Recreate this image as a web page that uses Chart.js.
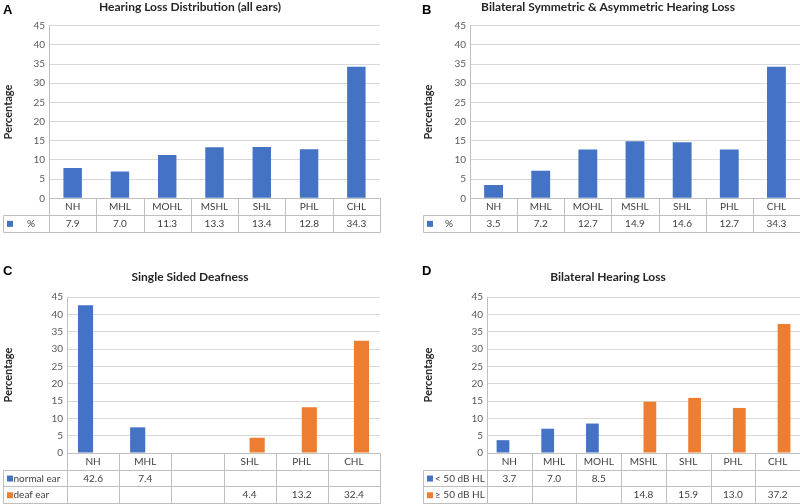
<!DOCTYPE html>
<html>
<head>
<meta charset="utf-8">
<script src="https://cdn.jsdelivr.net/npm/chart.js@4.4.0/dist/chart.umd.min.js"></script>
<style>
  body { margin: 0; background: #fff; width: 800px; height: 504px; position: relative; overflow: hidden; }
  .panel { position: absolute; width: 400px; height: 252px; }
  .letter { position: absolute; font: bold 13px "Liberation Sans", Arial, sans-serif; line-height: 1; color: #000; }
</style>
</head>
<body>
<div class="panel" style="left:0;top:0"><canvas id="chartA"></canvas></div>
<div class="panel" style="left:400px;top:0"><canvas id="chartB"></canvas></div>
<div class="panel" style="left:0;top:252px"><canvas id="chartC"></canvas></div>
<div class="panel" style="left:400px;top:252px"><canvas id="chartD"></canvas></div>
<div class="letter" style="left:3px;top:3px">A</div>
<div class="letter" style="left:422px;top:3px">B</div>
<div class="letter" style="left:3px;top:264px">C</div>
<div class="letter" style="left:422px;top:264px">D</div>
<script>
// categories
const categories = ["NH", "MHL", "MOHL", "MSHL", "SHL", "PHL", "CHL"];
const ssdCategories = ["NH", "MHL", "", "SHL", "PHL", "CHL"];

// A: all ears
const allEars = [7.9, 7.0, 11.3, 13.3, 13.4, 12.8, 34.3];
// B: bilateral symmetric & asymmetric
const bilateralSymAsym = [3.5, 7.2, 12.7, 14.9, 14.6, 12.7, 34.3];
// C: single sided deafness
const ssdNormalEar = [42.6, 7.4, null, null, null, null];
const ssdDeafEar = [null, null, null, 4.4, 13.2, 32.4];
// D: bilateral hearing loss
const bilatBelow50 = [3.7, 7.0, 8.5, null, null, null, null];
const bilatAbove50 = [null, null, null, 14.8, 15.9, 13.0, 37.2];

const yMin = 0, yMax = 45, yStep = 5;

const BLUE = "#4472C4";
const ORANGE = "#ED7D31";
const FONT = "Lato";
const H = 252;

// draws the data table under the plot (Excel style)
const dataTable = {
  id: "dataTable",
  afterDraw(chart, args, opts) {
    const ctx = chart.ctx;
    const xs = chart.scales.x;
    const area = chart.chartArea;
    const rowH = opts.rowH;
    const n = chart.data.labels.length;
    const half = (xs.getPixelForTick(1) - xs.getPixelForTick(0)) / 2;
    const right = Math.min(area.right, chart.width - 0.5);
    const axisY = area.bottom;
    const tableTop = axisY + rowH;
    const rows = chart.data.datasets.length;
    const bottom = tableTop + rows * rowH;
    const snap = v => Math.round(v) + 0.5;

    ctx.save();
    ctx.strokeStyle = "#BFBFBF";
    ctx.lineWidth = 1;
    ctx.beginPath();
    for (let r = 0; r <= rows; r++) {
      const y = snap(tableTop + r * rowH);
      ctx.moveTo(snap(opts.legendLeft), y);
      ctx.lineTo(snap(right), y);
    }
    for (let i = 0; i <= n; i++) {
      let xp = i === n ? right : xs.getPixelForTick(i) - half;
      ctx.moveTo(snap(xp), i === 0 ? area.top : axisY);
      ctx.lineTo(snap(xp), snap(bottom));
    }
    ctx.moveTo(snap(opts.legendLeft), snap(tableTop));
    ctx.lineTo(snap(opts.legendLeft), snap(bottom));
    ctx.stroke();

    ctx.font = "10px " + FONT;
    ctx.textBaseline = "middle";
    chart.data.datasets.forEach((ds, r) => {
      const cy = tableTop + r * rowH + rowH / 2 + 0.5;
      ctx.fillStyle = ds.backgroundColor;
      ctx.fillRect(opts.legendLeft + 4.5, cy - 3, 6, 6);
      ctx.fillStyle = "#404040";
      ctx.textAlign = "left";
      ctx.fillText(ds.label, opts.labelX, cy);
      ctx.textAlign = "center";
      ds.data.forEach((v, i) => {
        if (v !== null) ctx.fillText(v.toFixed(1), xs.getPixelForTick(i), cy);
      });
    });
    ctx.restore();
  }
};

function makeChart(id, title, labels, datasets, p) {
  const titleLine = 14.4;
  const titleTop = p.titleY - titleLine / 2;
  return new Chart(document.getElementById(id), {
    type: "bar",
    data: { labels: labels, datasets: datasets },
    plugins: [dataTable],
    options: {
      responsive: true,
      maintainAspectRatio: false,
      animation: false,
      categoryPercentage: p.catPct,
      barPercentage: 1,
      layout: {
        padding: { left: p.padLeft, right: p.padRight, top: 0, bottom: H - (p.axisY + p.rowH) }
      },
      plugins: {
        legend: { display: false },
        tooltip: { enabled: false },
        title: {
          display: true,
          text: title,
          color: "#262626",
          font: { family: FONT, size: 12, weight: "bold", lineHeight: 1.2 },
          padding: { top: titleTop, bottom: p.plotTop - titleTop - titleLine }
        },
        dataTable: { rowH: p.rowH, legendLeft: p.legendLeft, labelX: p.labelX }
      },
      scales: {
        x: {
          grid: { display: false, drawTicks: false },
          border: { display: true, color: "#BFBFBF" },
          ticks: { font: { family: FONT, size: 10 }, color: "#404040", padding: 2.5, maxRotation: 0, autoSkip: false },
          afterFit: s => { s.height = p.rowH; }
        },
        y: {
          min: yMin,
          max: yMax,
          grid: { color: "#D9D9D9", drawTicks: false },
          border: { display: true, color: "#BFBFBF" },
          ticks: { stepSize: yStep, font: { family: FONT, size: 10 }, color: "#595959", padding: 4 },
          title: {
            display: true,
            text: "Percentage",
            color: "#262626",
            font: { family: FONT, size: 11, weight: "bold", lineHeight: 1.2 },
            padding: { top: p.yTitleX - p.padLeft - 6.6, bottom: 0 }
          },
          afterFit: s => { s.width = p.plotLeft - p.padLeft; }
        }
      }
    }
  });
}

makeChart("chartA", "Hearing Loss Distribution (all ears)", categories,
  [{ label: "%", data: allEars, backgroundColor: BLUE }],
  { padLeft: 0, padRight: 20, plotLeft: 49, plotTop: 25.7, axisY: 198.3, rowH: 16.7, titleY: 7.5,
    legendLeft: 2.5, labelX: 27, yTitleX: 8.3, catPct: 0.39 });

makeChart("chartB", "Bilateral Symmetric & Asymmetric Hearing Loss", categories,
  [{ label: "%", data: bilateralSymAsym, backgroundColor: BLUE }],
  { padLeft: 16, padRight: 0, plotLeft: 70, plotTop: 25.7, axisY: 198.3, rowH: 16.7, titleY: 7.5,
    legendLeft: 22.5, labelX: 45, yTitleX: 28.3, catPct: 0.4 });

makeChart("chartC", "Single Sided Deafness", ssdCategories,
  [{ label: "normal ear", data: ssdNormalEar, backgroundColor: BLUE },
   { label: "deaf ear", data: ssdDeafEar, backgroundColor: ORANGE }],
  { padLeft: 0, padRight: 20, plotLeft: 67, plotTop: 45, axisY: 201, rowH: 16.7, titleY: 24.8,
    legendLeft: 2.5, labelX: 13.5, yTitleX: 8.3, catPct: 0.58 });

makeChart("chartD", "Bilateral Hearing Loss", categories,
  [{ label: "< 50 dB HL", data: bilatBelow50, backgroundColor: BLUE },
   { label: "\u2265 50 dB HL", data: bilatAbove50, backgroundColor: ORANGE }],
  { padLeft: 16, padRight: 0, plotLeft: 87, plotTop: 45, axisY: 201, rowH: 16.7, titleY: 24.8,
    legendLeft: 22.5, labelX: 35, yTitleX: 28.3, catPct: 0.57 });
</script>
</body>
</html>
